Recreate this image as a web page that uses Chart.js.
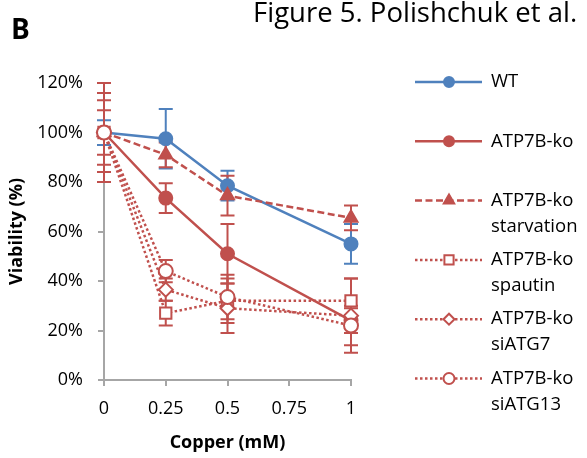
<!DOCTYPE html>
<html>
<head>
<meta charset="utf-8">
<script src="https://cdn.jsdelivr.net/npm/chart.js@4.4.1/dist/chart.umd.min.js"></script>
<style>
  body { margin: 0; background: #fff; }
  #wrap { position: relative; width: 587px; height: 458px; }
</style>
</head>
<body>
<div id="wrap"><canvas id="viabilityChart" width="587" height="458"></canvas></div>
<script>
// viability (% of untreated) against copper dose
const copper = [0, 0.25, 0.5, 1];
const xTicks = [0, 0.25, 0.5, 0.75, 1];
const yTicks = [0, 20, 40, 60, 80, 100, 120];

const wt = [100, 97.5, 78.5, 55];
const wtErr = [5, 12, 6, 8];
const ko = [100, 73.5, 51, 24];
const koErr = [9, 6, 12, 5];
const koStarv = [100, 91, 74.5, 65.5];
const koStarvErr = [13, 5, 8, 5];
const koSpautin = [100, 27, 32, 32];
const koSpautinErr = [16, 5, 9, 9];
const koAtg7 = [100, 36.5, 29, 26];
const koAtg7Err = [20, 4.5, 10, 15];
const koAtg13 = [100, 44, 33.5, 22];
const koAtg13Err = [16, 4.5, 9, 8];

const seriesNames = [
  ["WT"],
  ["ATP7B-ko"],
  ["ATP7B-ko", "starvation"],
  ["ATP7B-ko", "spautin"],
  ["ATP7B-ko", "siATG7"],
  ["ATP7B-ko", "siATG13"]
];

const BLUE = "#4F81BD";
const RED = "#C0504D";
const AXIS = "#A6A6A6";
const FONT = '"Open Sans", sans-serif';

Chart.defaults.font.family = FONT;
Chart.defaults.font.size = 18;
Chart.defaults.color = "#000";

function series(i, vals, errs, color, dash, pointStyle, radius, filled, legendRadius) {
  return {
    label: seriesNames[i].join(" "),
    names: seriesNames[i],
    data: copper.map((c, k) => ({ x: c, y: vals[k] })),
    errors: errs,
    borderColor: color,
    backgroundColor: color,
    borderWidth: 2.5,
    borderDash: dash,
    pointStyle: pointStyle,
    pointRadius: radius,
    pointBorderWidth: 2,
    pointBorderColor: color,
    pointBackgroundColor: filled ? color : "#fff",
    legendRadius: legendRadius,
    tension: 0,
    clip: false,
    order: 10 - i
  };
}

const datasets = [
  series(0, wt, wtErr, BLUE, [], "circle", 6.5, true, 5),
  series(1, ko, koErr, RED, [], "circle", 6.5, true, 5),
  series(2, koStarv, koStarvErr, RED, [7, 3.5], "triangle", 7.5, true, 6),
  series(3, koSpautin, koSpautinErr, RED, [2.5, 2.5], "rect", 8, false, 6.5),
  series(4, koAtg7, koAtg7Err, RED, [2.5, 2.5], "rectRot", 7, false, 5.5),
  series(5, koAtg13, koAtg13Err, RED, [2.5, 2.5], "circle", 7, false, 5.5)
];

// vertical error bars with caps, under the lines and markers
const errorBars = {
  id: "errorBars",
  beforeDatasetsDraw(chart) {
    const { ctx, scales: { x, y } } = chart;
    ctx.save();
    ctx.lineWidth = 2;
    ctx.setLineDash([]);
    chart.data.datasets.forEach(ds => {
      ctx.strokeStyle = ds.borderColor;
      ds.data.forEach((p, k) => {
        const px = x.getPixelForValue(p.x);
        const top = y.getPixelForValue(p.y + ds.errors[k]);
        const bot = y.getPixelForValue(p.y - ds.errors[k]);
        ctx.beginPath();
        ctx.moveTo(px, top); ctx.lineTo(px, bot);
        ctx.moveTo(px - 7, top); ctx.lineTo(px + 7, top);
        ctx.moveTo(px - 7, bot); ctx.lineTo(px + 7, bot);
        ctx.stroke();
      });
    });
    ctx.restore();
  }
};

// legend on the right: line sample with marker, wrapped names
const sideLegend = {
  id: "sideLegend",
  afterDraw(chart) {
    const ctx = chart.ctx;
    ctx.save();
    chart.data.datasets.forEach((ds, i) => {
      const yy = 82 + i * 59.3;
      ctx.strokeStyle = ds.borderColor;
      ctx.lineWidth = 2.5;
      ctx.setLineDash(ds.borderDash);
      ctx.beginPath();
      ctx.moveTo(415, yy); ctx.lineTo(482, yy);
      ctx.stroke();
      ctx.setLineDash([]);
      ctx.fillStyle = ds.pointBackgroundColor;
      ctx.strokeStyle = ds.pointBorderColor;
      ctx.lineWidth = 2;
      Chart.helpers.drawPoint(ctx, {
        pointStyle: ds.pointStyle, radius: ds.legendRadius, rotation: 0, borderWidth: 2
      }, 449, yy);
      ctx.fillStyle = "#000";
      ctx.font = "18.5px " + FONT;
      ctx.textBaseline = "middle";
      ds.names.forEach((t, n) => ctx.fillText(t, 491, yy + n * 26));
    });
    // panel letter and figure caption
    ctx.textBaseline = "alphabetic";
    ctx.font = "bold 28px " + FONT;
    ctx.fillText("B", 11, 39);
    ctx.font = "27.5px " + FONT;
    ctx.fillText("Figure 5. Polishchuk et al.", 253, 22);
    ctx.restore();
  }
};

new Chart(document.getElementById("viabilityChart").getContext("2d"), {
  type: "line",
  data: { datasets: datasets },
  options: {
    responsive: false,
    animation: false,
    layout: { padding: { top: 83, right: 236, left: 0, bottom: 0 } },
    plugins: { legend: { display: false }, tooltip: { enabled: false } },
    scales: {
      x: {
        type: "linear",
        min: 0,
        max: 1,
        afterBuildTicks: s => { s.ticks = xTicks.map(v => ({ value: v })); },
        afterFit: s => { s.height = 78; },
        grid: { drawOnChartArea: false, tickLength: 6, color: AXIS, lineWidth: 2 },
        border: { color: AXIS, width: 2 },
        ticks: { padding: 12, maxRotation: 0, callback: v => String(v) },
        title: {
          display: true,
          text: "Copper (mM)",
          font: { size: 18, weight: "bold" },
          padding: { top: 0, bottom: 4 }
        }
      },
      y: {
        min: 0,
        max: 120,
        afterBuildTicks: s => { s.ticks = yTicks.map(v => ({ value: v })); },
        afterFit: s => { s.width = 104; },
        grid: { drawOnChartArea: false, tickLength: 6, color: AXIS, lineWidth: 2 },
        border: { color: AXIS, width: 2 },
        ticks: { padding: 15, callback: v => v + "%" },
        title: {
          display: true,
          text: "Viability (%)",
          font: { size: 18, weight: "bold" },
          padding: { top: 6, bottom: 0 }
        }
      }
    }
  },
  plugins: [errorBars, sideLegend]
});
</script>
</body>
</html>
